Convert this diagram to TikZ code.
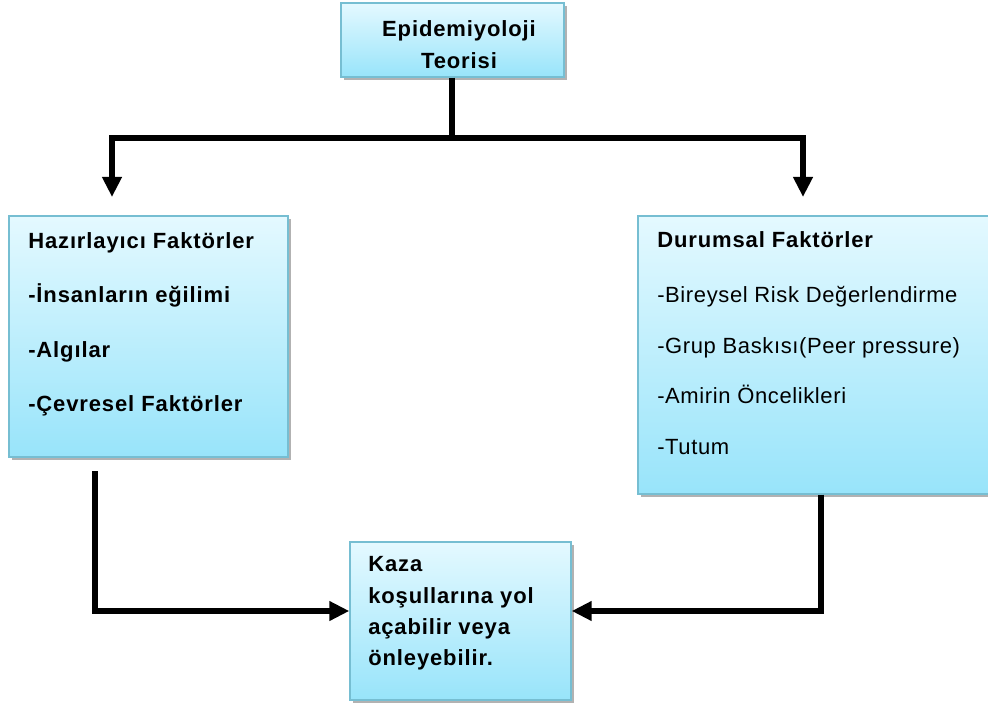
\documentclass[tikz,border=0pt]{standalone}
\usepackage{fontspec}
\setmainfont{Liberation Sans}[LetterSpace=2.8,BoldFeatures={LetterSpace=4}]
\usetikzlibrary{arrows.meta,fit,shadows}
\definecolor{boxtop}{RGB}{228,249,255}
\definecolor{boxbot}{RGB}{152,228,250}
\definecolor{boxline}{RGB}{118,190,210}
\begin{document}
\begin{tikzpicture}[x=0.75pt,y=-0.75pt,
  box/.style={draw=boxline, line width=1pt, top color=boxtop, bottom color=boxbot, inner sep=0pt,
    drop shadow={shadow xshift=2pt,shadow yshift=-2pt,opacity=0.3,fill=black}},
  txt/.style={inner sep=0pt, anchor=base west, font=\fontsize{16.5pt}{19pt}\selectfont},
  ctxt/.style={txt, anchor=base},
  conn/.style={line width=4.5pt, line join=miter},
  arr/.style={conn, -{Triangle[length=15pt,width=14pt]}}]
\useasboundingbox (0,0) rectangle (988,706);

% boxes
\node[box, fit={(341,3) (564,77)}] (top) {};
\node[box, fit={(9,216) (288,457)}] (left) {};
\node[box, fit={(638,216) (998,494)}] (right) {};
\node[box, fit={(350,542) (571,700)}] (bottom) {};

% top text
\node[ctxt] (t1) at (459,36.5) {\bfseries Epidemiyoloji};
\node[ctxt] (t2) at (459,69) {\bfseries Teorisi};

% left text
\node[txt] (l1) at (28,248.5) {\bfseries Hazırlayıcı Faktörler};
\node[txt] (l2) at (28,302.8) {\bfseries -İnsanların eğilimi};
\node[txt] (l3) at (28,357) {\bfseries -Algılar};
\node[txt] (l4) at (28,411.5) {\bfseries -Çevresel Faktörler};

% right text
\node[txt] (r1) at (657,247.5) {\bfseries Durumsal Faktörler};
\node[txt] (r2) at (657,302.5) {-Bireysel Risk Değerlendirme};
\node[txt] (r3) at (657,353.5) {-Grup Baskısı(Peer pressure)};
\node[txt] (r4) at (657,403.5) {-Amirin Öncelikleri};
\node[txt] (r5) at (657,454.5) {-Tutum};

% bottom text
\node[txt] (b1) at (368,571.5) {\bfseries Kaza};
\node[txt] (b2) at (368,603) {\bfseries koşullarına yol};
\node[txt] (b3) at (368,634) {\bfseries açabilir veya};
\node[txt] (b4) at (368,665) {\bfseries önleyebilir.};

% connector helpers
\coordinate (j) at (452,138);
\coordinate (lt) at (112,197);
\coordinate (rt) at (803,197);
\coordinate (ls) at (95,471);
\coordinate (rx) at (821,0);
\coordinate (ly) at (0,611);

% connectors
\draw[conn] (top.south -| j) -- (j);
\draw[arr] (j) -| (lt);
\draw[arr] (j) -| (rt);
\draw[arr] (ls) |- (bottom.west |- ly);
\draw[arr] (right.south -| rx) |- (bottom.east |- ly);
\end{tikzpicture}
\end{document}
